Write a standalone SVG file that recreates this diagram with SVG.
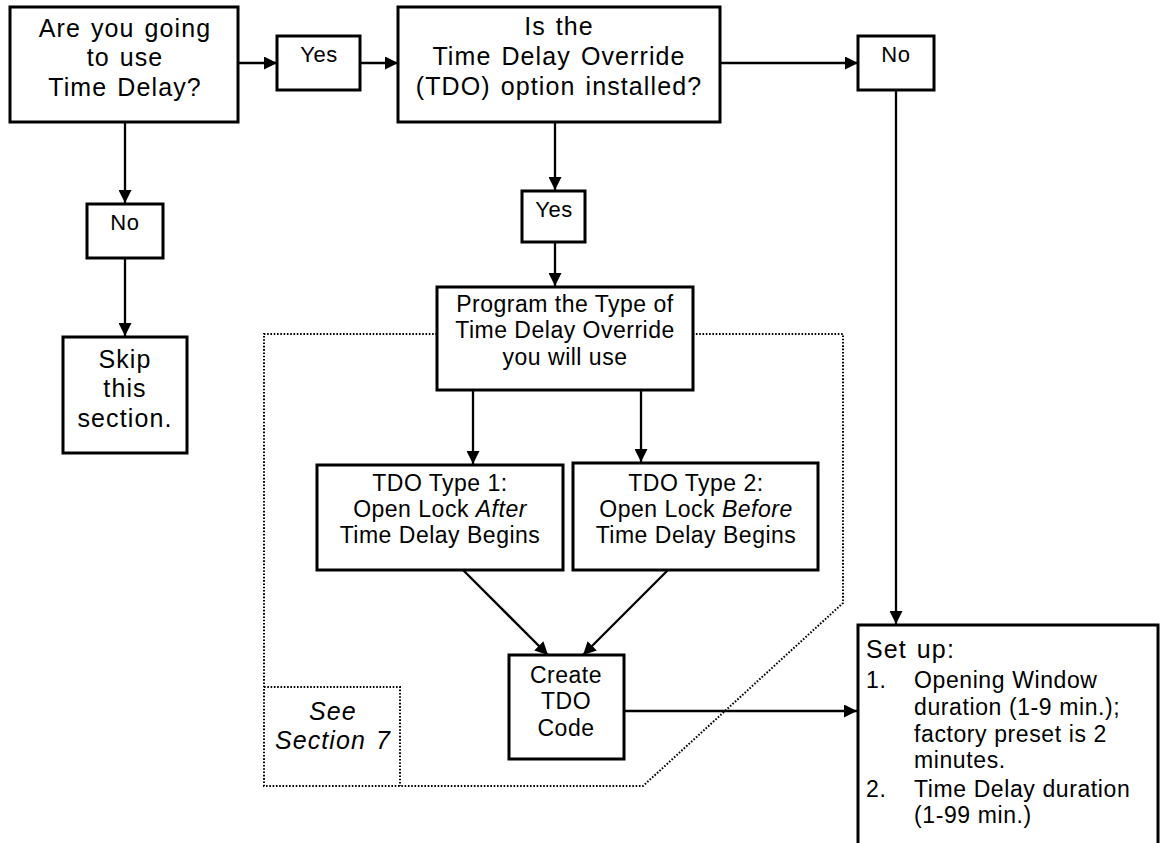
<svg xmlns="http://www.w3.org/2000/svg" width="1161" height="843" viewBox="0 0 1161 843">
<defs>
<marker id="arr" markerUnits="userSpaceOnUse" markerWidth="14" markerHeight="13" refX="13" refY="6.5" orient="auto">
<path d="M0,0 L13,6.5 L0,13 z" fill="#000"/>
</marker>
<style>
.box{fill:#fff;stroke:#000;stroke-width:3}
.ln{fill:none;stroke:#000;stroke-width:2.3;marker-end:url(#arr)}
.dot{fill:none;stroke:#000;stroke-width:2;stroke-dasharray:1.6 1.7}
text{font-family:"Liberation Sans",Arial,sans-serif;fill:#000}
.big{font-size:25px;letter-spacing:1.1px;word-spacing:2px;text-anchor:middle}
.mid{font-size:23px;letter-spacing:0.5px;text-anchor:middle}
.sm{font-size:22px;letter-spacing:0.6px;text-anchor:middle}
.it{font-style:italic}
.lst{font-size:23px;letter-spacing:0.6px}
</style>
</defs>
<rect width="1161" height="843" fill="#fff"/>
<g id="region">
<path class="dot" d="M437,334 H264 V786 H643 L843,603 V334 H693"/>
<path class="dot" d="M264,687 H400 V786"/>
</g>
<g id="connectors">
<line class="ln" x1="238" y1="63" x2="277" y2="63"/>
<line class="ln" x1="360" y1="63" x2="398" y2="63"/>
<line class="ln" x1="720" y1="63" x2="858" y2="63"/>
<line class="ln" x1="896" y1="90" x2="896" y2="624"/>
<line class="ln" x1="125" y1="122" x2="125" y2="203"/>
<line class="ln" x1="125" y1="258" x2="125" y2="336"/>
<line class="ln" x1="555" y1="122" x2="555" y2="190"/>
<line class="ln" x1="555" y1="242" x2="555" y2="286"/>
<line class="ln" x1="473" y1="390" x2="473" y2="464"/>
<line class="ln" x1="641" y1="390" x2="641" y2="462"/>
<line class="ln" x1="463" y1="570" x2="548" y2="655"/>
<line class="ln" x1="668" y1="570" x2="583" y2="655"/>
<line class="ln" x1="624" y1="711" x2="857" y2="711"/>
</g>
<g id="q1">
<rect class="box" x="10" y="7" width="228" height="115"/>
<text class="big" x="125" y="37">Are you going</text>
<text class="big" x="125" y="66">to use</text>
<text class="big" x="125" y="96">Time Delay?</text>
</g>
<g id="yes1">
<rect class="box" x="277" y="36" width="83" height="54"/>
<text class="sm" x="319" y="62">Yes</text>
</g>
<g id="q2">
<rect class="box" x="398" y="7" width="322" height="115"/>
<text class="big" x="559" y="35">Is the</text>
<text class="big" x="559" y="65">Time Delay Override</text>
<text class="big" x="559" y="95">(TDO) option installed?</text>
</g>
<g id="no1">
<rect class="box" x="858" y="36" width="76" height="54"/>
<text class="sm" x="896" y="62">No</text>
</g>
<g id="no2">
<rect class="box" x="87" y="204" width="76" height="54"/>
<text class="sm" x="125" y="230">No</text>
</g>
<g id="skip">
<rect class="box" x="63" y="337" width="124" height="116"/>
<text class="big" x="125" y="368">Skip</text>
<text class="big" x="125" y="397">this</text>
<text class="big" x="125" y="427">section.</text>
</g>
<g id="yes2">
<rect class="box" x="522" y="191" width="63" height="51"/>
<text class="sm" x="554" y="217">Yes</text>
</g>
<g id="program">
<rect class="box" x="437" y="287" width="256" height="103"/>
<text class="mid" x="565" y="312">Program the Type of</text>
<text class="mid" x="565" y="338">Time Delay Override</text>
<text class="mid" x="565" y="365">you will use</text>
</g>
<g id="type1">
<rect class="box" x="317" y="465" width="246" height="105"/>
<text class="mid" x="440" y="491">TDO Type 1:</text>
<text class="mid" x="440" y="517">Open Lock <tspan class="it">After</tspan></text>
<text class="mid" x="440" y="543">Time Delay Begins</text>
</g>
<g id="type2">
<rect class="box" x="573" y="463" width="245" height="107"/>
<text class="mid" x="696" y="491">TDO Type 2:</text>
<text class="mid" x="696" y="517">Open Lock <tspan class="it">Before</tspan></text>
<text class="mid" x="696" y="543">Time Delay Begins</text>
</g>
<g id="create">
<rect class="box" x="509" y="655" width="115" height="104"/>
<text class="mid" x="566" y="683">Create</text>
<text class="mid" x="566" y="709">TDO</text>
<text class="mid" x="566" y="736">Code</text>
</g>
<g id="see">
<text class="big it" x="333" y="720">See</text>
<text class="big it" x="333" y="749">Section 7</text>
</g>
<g id="setup">
<rect class="box" x="858" y="625" width="300" height="240"/>
<text x="866" y="658" style="font-size:25px;letter-spacing:1.1px;word-spacing:2px">Set up:</text>
<text class="lst" x="866" y="688">1.</text>
<text class="lst" x="914" y="688">Opening Window</text>
<text class="lst" x="914" y="715">duration (1-9 min.);</text>
<text class="lst" x="914" y="742">factory preset is 2</text>
<text class="lst" x="914" y="768">minutes.</text>
<text class="lst" x="866" y="797">2.</text>
<text class="lst" x="914" y="797">Time Delay duration</text>
<text class="lst" x="914" y="823">(1-99 min.)</text>
</g>
</svg>
